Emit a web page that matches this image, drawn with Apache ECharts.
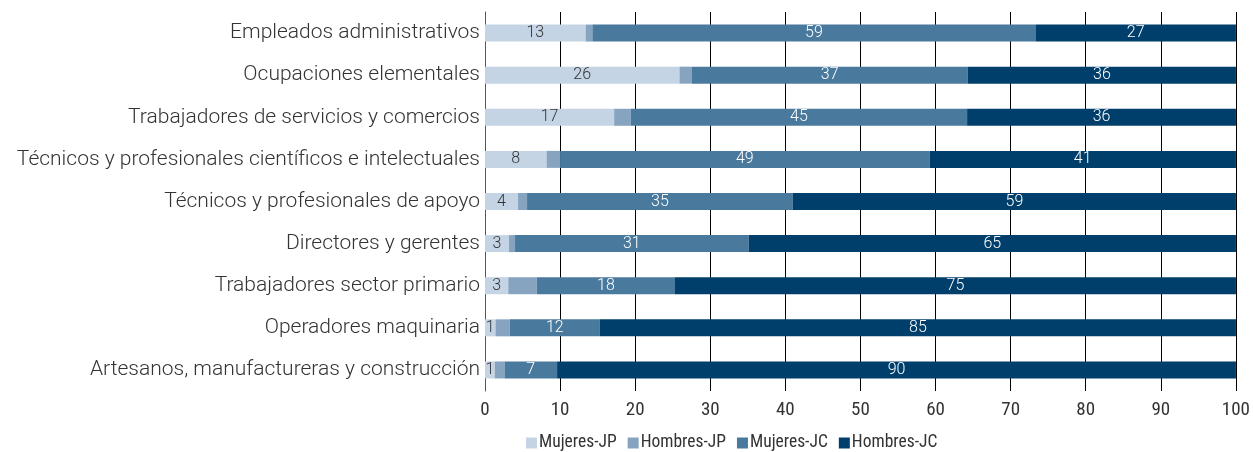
<!DOCTYPE html>
<html><head><meta charset="utf-8">
<script src="https://cdn.jsdelivr.net/npm/echarts@6/dist/echarts.min.js"></script>
<style>html,body{margin:0;padding:0;background:#fff}#c{width:1253px;height:452px}</style>
</head><body><div id="c"></div>
<script>
const categories = [
  "Empleados administrativos",
  "Ocupaciones elementales",
  "Trabajadores de servicios y comercios",
  "Técnicos y profesionales científicos e intelectuales",
  "Técnicos y profesionales de apoyo",
  "Directores y gerentes",
  "Trabajadores sector primario",
  "Operadores maquinaria",
  "Artesanos, manufactureras y construcción"
];
const mujeresJP = [13.4, 25.9, 17.2, 8.2, 4.4, 3.2, 3.1, 1.4, 1.3];
const hombresJP = [0.9, 1.6, 2.2, 1.8, 1.2, 0.8, 3.8, 1.9, 1.3];
const mujeresJC = [59.0, 36.8, 44.8, 49.2, 35.4, 31.1, 18.4, 12.0, 7.0];
const hombresJC = [26.7, 35.7, 35.8, 40.8, 59.0, 64.9, 74.7, 84.7, 90.4];
const seriesNames = ["Mujeres-JP", "Hombres-JP", "Mujeres-JC", "Hombres-JC"];
const xTicks = [0, 10, 20, 30, 40, 50, 60, 70, 80, 90, 100];

const FONT = "Roboto";
const NARROW = "'Liberation Sans Narrow', 'Roboto Condensed', 'DejaVu Sans Condensed', Roboto";
const colors = ["#c4d4e4", "#86a4c0", "#4a799e", "#003f6b"];
const labelColors = ["#333333", null, "#ffffff", "#ffffff"];
const datasets = [mujeresJP, hombresJP, mujeresJC, hombresJC];

const chart = echarts.init(document.getElementById('c'));
chart.setOption({
  animation: false,
  textStyle: { fontFamily: FONT },
  grid: { left: 485, right: 11, top: 12, bottom: 61, containLabel: false },
  legend: {
    left: 521, top: 429,
    itemWidth: 11, itemHeight: 11, itemGap: 11,
    icon: 'rect',
    textStyle: { fontFamily: NARROW, fontSize: 17.5, color: '#333', padding: [0,0,0,-3] },
    data: seriesNames
  },
  xAxis: {
    type: 'value', min: 0, max: 100, interval: 10,
    axisLine: { show: false },
    axisTick: { show: false },
    splitLine: { show: true, lineStyle: { color: '#000', width: 1 } },
    axisLabel: { fontFamily: NARROW, fontSize: 19, color: '#333', margin: 10,
      formatter: v => xTicks.includes(v) ? String(v) : '' }
  },
  yAxis: {
    type: 'category', inverse: true, data: categories,
    axisLine: { show: true, lineStyle: { color: '#555', width: 1 } },
    axisTick: { show: false },
    axisLabel: { fontFamily: FONT, fontSize: 21, fontWeight: 300, color: '#333', margin: 5 }
  },
  series: datasets.map((d, i) => ({
    name: seriesNames[i], type: 'bar', stack: 'total', barWidth: 17,
    itemStyle: { color: colors[i] },
    label: labelColors[i] ? {
      show: true, position: 'inside', fontFamily: FONT, fontSize: 16, fontWeight: 300,
      color: labelColors[i], formatter: p => Math.round(p.value)
    } : { show: false },
    data: d
  }))
});
</script></body></html>
